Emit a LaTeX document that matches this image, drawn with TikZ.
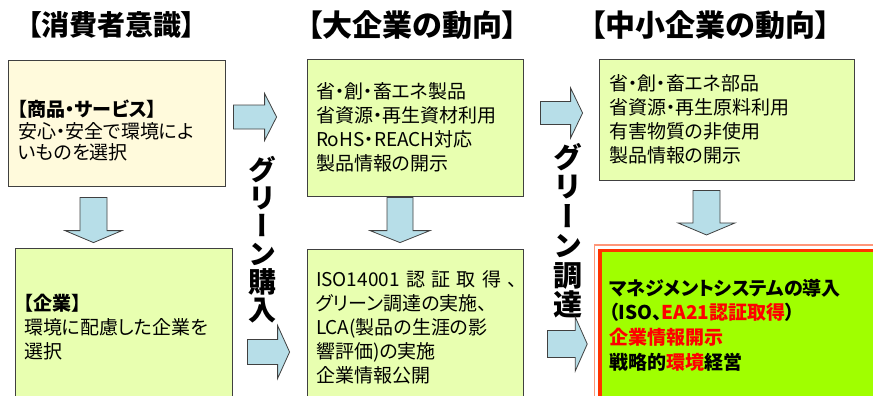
\documentclass[tikz,border=0pt]{standalone}
\usepackage{fontspec}
\setmainfont{Noto Sans CJK JP}[RawFeature=+palt] % proportional kana and punctuation
\newfontfamily\vertfont[RawFeature=+vert]{Noto Sans CJK JP} % vertical forms for the long vowel mark
\usetikzlibrary{positioning,calc}

\definecolor{creambox}{RGB}{255,250,220}
\definecolor{greenbox}{RGB}{232,255,176}
\definecolor{limebox}{RGB}{160,255,0}
\definecolor{redline}{RGB}{255,51,0}
\definecolor{salmonline}{RGB}{255,150,120}
\definecolor{arrowfill}{RGB}{183,222,232}
\definecolor{edgegray}{RGB}{64,64,64}
\definecolor{alertred}{RGB}{255,0,0}

\tikzset{x=1pt, y=-1pt, % pixel grid of the slide, y going down
        box/.style={ % Sets the properties for each text box
            draw=edgegray,
            line width=0.8pt,
            align=left,
            inner ysep=0pt,
            font=\fontsize{19}{24}\selectfont},
        heading/.style={anchor=base, font=\bfseries\fontsize{30}{30}\selectfont},
        vtext/.style={align=center, inner sep=0pt}, % stacked vertical labels
        blockarrow/.style={ % Sets the properties for the wide arrows
            draw=edgegray,
            line width=0.8pt,
            fill=arrowfill,
            line join=miter}
        }

% wide arrow: tail, tip, shaft half width, head half width
\newcommand{\blockarrow}[4]{%
    \coordinate (ba-head) at ($(#2)!12pt!(#1)$);
    \draw[blockarrow] ($(#1)!#3!90:(#2)$) -- ($(ba-head)!#3!-90:(#1)$)
        -- ($(ba-head)!#4!-90:(#1)$) -- (#2) -- ($(ba-head)!#4!90:(#1)$)
        -- ($(ba-head)!#3!90:(#1)$) -- ($(#1)!#3!-90:(#2)$) -- cycle;
}

\begin{document}
\begin{tikzpicture}
    \useasboundingbox (0,0) rectangle (873,396);
    \clip (0,0) rectangle (873,396);

    % column headings
    \node[heading, font=\bfseries\fontsize{28}{28}\selectfont] (hcons) at (111.5,35.6) {【消費者意識】};
    \node[heading] (hbig) at (412.5,37) {【大企業の動向】};
    \node[heading] (hsmall) at (710.5,37) {【中小企業の動向】};

    % boxes
    \node[box, fill=creambox, text width=197pt, inner xsep=10pt, minimum height=126pt,
          font=\fontsize{19}{21.5}\selectfont] (cons) at (116.5,123)
        {\rule{0pt}{32pt}\textbf{【商品・サービス】}\\安心・安全で環境によ\\いものを選択};
    \node[box, fill=greenbox, text width=199pt, inner xsep=9pt, minimum height=158pt] (corp) at (123.5,327)
        {\textbf{【企業】}\\環境に配慮した企業を\\選択};
    \node[box, fill=greenbox, text width=198pt, inner xsep=9pt, minimum height=137pt] (big1) at (415,127.5)
        {省・創・畜エネ製品\\省資源・再生資材利用\\RoHS・REACH対応\\製品情報の開示};
    \node[box, fill=greenbox, text width=198pt, inner xsep=9pt, minimum height=157pt] (big2) at (415,327.5)
        {\makebox[191pt][s]{ISO14001 認 証 取 得 、}\\グリーン調達の実施、\\LCA(製品の生涯の影\\響評価)の実施\\企業情報公開};
    \node[box, fill=greenbox, text width=235pt, inner xsep=10pt, minimum height=121pt] (small1) at (726.5,119.5)
        {省・創・畜エネ部品\\省資源・再生原料利用\\有害物質の非使用\\製品情報の開示};
    \node[box, fill=limebox, draw=redline, line width=3.5pt, text width=272pt, inner xsep=9pt,
          minimum height=148.6pt, font=\bfseries\fontsize{19}{24.7}\selectfont] (small2) at (745,325)
        {マネジメントシステムの導入\\（ISO、\textcolor{alertred}{EA21認証取得}）\\
         \textcolor{alertred}{企業情報開示}\\戦略的\textcolor{alertred}{環境}経営};
    \draw[salmonline, line width=1.2pt] ($(small2.north west)+(-4,-4)$) rectangle ($(small2.south east)+(4,4)$);

    % vertical labels
    \node[vtext, font=\vertfont\bfseries\fontsize{28}{28}\selectfont] (gpur) at (262,240) {グ\\リ\\ー\\ン\\購\\入};
    \node[vtext, font=\vertfont\bfseries\fontsize{29}{29.5}\selectfont] (gproc) at (568,230.5) {グ\\リ\\ー\\ン\\調\\達};

    % wide arrows between the boxes
    \coordinate (t1) at ($(cons.east)+(8,-6)$);
    \coordinate (h1) at ($(big1.west)+(-30,-10.5)$);
    \coordinate (t2) at ($(corp.east)+(15,25)$);
    \coordinate (h2) at ($(big2.west)+(-17,24.5)$);
    \coordinate (t3) at ($(cons.south)+(-23,11)$);
    \coordinate (h3) at ($(corp.north)+(-30,-5)$);
    \coordinate (t4) at ($(big1.south)+(-15,1)$);
    \coordinate (h4) at ($(big2.north)+(-15,-6)$);
    \coordinate (t5) at ($(big1.east)+(17,-14.5)$);
    \coordinate (h5) at ($(small1.west)+(-16,-6.5)$);
    \coordinate (t6) at ($(big2.east)+(24,16.5)$);
    \coordinate (h6) at ($(small2.west)+(-11,19)$);
    \coordinate (t7) at ($(small1.south)+(-20,10)$);
    \coordinate (h7) at ($(small2.north)+(-38.5,-14)$);

    \blockarrow{t1}{h1}{12pt}{23.5pt}
    \blockarrow{t2}{h2}{12.5pt}{26.5pt}
    \blockarrow{t3}{h3}{13.5pt}{28.5pt}
    \blockarrow{t4}{h4}{13pt}{30pt}
    \blockarrow{t5}{h5}{11.5pt}{25pt}
    \blockarrow{t6}{h6}{13.5pt}{27pt}
    \blockarrow{t7}{h7}{13.5pt}{28.5pt}
\end{tikzpicture}
\end{document}
